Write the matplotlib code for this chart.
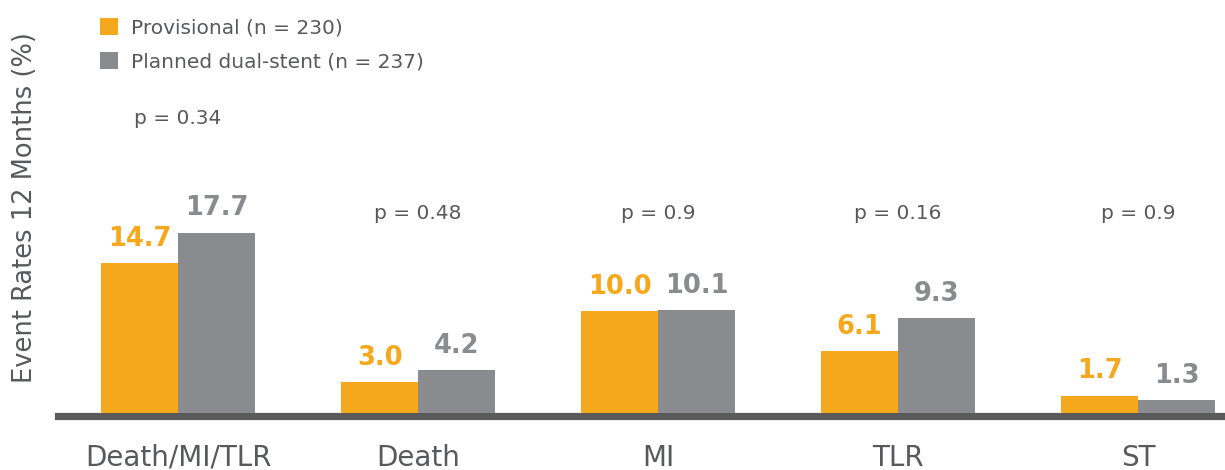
import matplotlib
matplotlib.use('Agg')
import matplotlib.pyplot as plt
from matplotlib.patches import Patch

# --- Data ---
categories = ['Death/MI/TLR', 'Death', 'MI', 'TLR', 'ST']
provisional = [14.7, 3.0, 10.0, 6.1, 1.7]
dual_stent = [17.7, 4.2, 10.1, 9.3, 1.3]
p_values = ['p = 0.34', 'p = 0.48', 'p = 0.9', 'p = 0.16', 'p = 0.9']
p_heights = [28.9, 19.6, 19.6, 19.6, 19.6]

ORANGE = '#F5A81C'
GRAY = '#8A8B8E'
TEXT = '#58595B'

plt.rcParams['font.family'] = ['DejaVu Sans']

fig = plt.figure(figsize=(12.25, 4.7), dpi=100)
ax = fig.add_axes([58 / 1225, 57 / 470, 1 - 58 / 1225, 413 / 470])

x = list(range(len(categories)))
w = 0.32
ax.bar([i - w / 2 for i in x], provisional, w, color=ORANGE, zorder=3)
ax.bar([i + w / 2 for i in x], dual_stent, w, color=GRAY, zorder=3)

for i in x:
    ax.text(i - w / 2, provisional[i] + 1.1, f'{provisional[i]:.1f}', ha='center', va='bottom',
            color=ORANGE, fontsize=18.5, fontweight='bold')
    ax.text(i + w / 2, dual_stent[i] + 1.1, f'{dual_stent[i]:.1f}', ha='center', va='bottom',
            color=GRAY, fontsize=18.5, fontweight='bold')
    ax.text(i, p_heights[i], p_values[i], ha='center', va='center', color=TEXT, fontsize=14.5)

# thick baseline under the bars
ax.axhline(-0.25, color='#5A5A5A', linewidth=5.2, zorder=2, clip_on=False)

ax.set_xlim(-0.5, 4.3625)
ax.set_ylim(0, 40.5)
for s in ax.spines.values():
    s.set_visible(False)
ax.set_yticks([])
ax.set_xticks(x)
ax.set_xticklabels(categories, fontsize=20, color=TEXT)
ax.tick_params(axis='x', length=0, pad=22)

fig.text(25 / 1225, 1 - 208 / 470, 'Event Rates 12 Months (%)', rotation=90, ha='center', va='center',
         fontsize=18.5, color=TEXT)

handles = [Patch(facecolor=ORANGE, label='Provisional (n = 230)'),
           Patch(facecolor=GRAY, label='Planned dual-stent (n = 237)')]
fig.legend(handles=handles, loc='upper left', bbox_to_anchor=(82 / 1225, 1 - 0 / 470), frameon=False,
           fontsize=14.5, labelcolor=TEXT, handlelength=0.9, handleheight=0.9, handletextpad=0.65,
           labelspacing=0.72)

fig.savefig('out.png', dpi=100)
